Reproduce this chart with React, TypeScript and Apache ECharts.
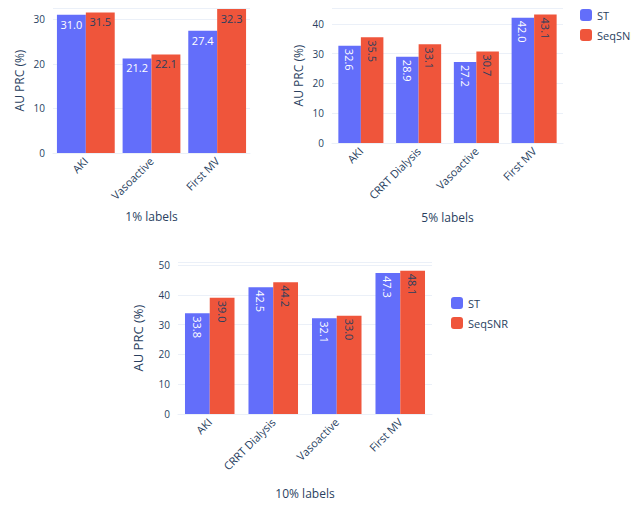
import React, { useEffect, useRef } from "react";
import * as echarts from "echarts";

const cats1 = ["AKI", "Vasoactive", "First MV"];
const st1 = [31.0, 21.2, 27.4];
const sq1 = [31.5, 22.1, 32.3];
const cats5 = ["AKI", "CRRT Dialysis", "Vasoactive", "First MV"];
const st5 = [32.6, 28.9, 27.2, 42.0];
const sq5 = [35.5, 33.1, 30.7, 43.1];
const cats10 = ["AKI", "CRRT Dialysis", "Vasoactive", "First MV"];
const st10 = [33.8, 42.5, 32.1, 47.3];
const sq10 = [39.0, 44.2, 33.0, 48.1];

const BLUE = "#636efa";
const RED = "#EF553B";
const TXT = "#2a3f5f";
const FONT = "Open Sans";

export default function App() {
  const ref = useRef<HTMLDivElement>(null);
  useEffect(() => {
    const chart = echarts.init(ref.current!, null, { renderer: "svg" });
    const grids = [
      { left: 45, width: 197, top: 0, height: 145 },
      { left: 324, width: 231, top: -2, height: 137 },
      { left: 170, width: 254, top: 254, height: 159 },
    ];
    const maxes = [32.5, 45.3, 51];
    const titles = ["1% labels", "5% labels", "10% labels"];
    const catsAll = [cats1, cats5, cats10];
    const xAxis = catsAll.map((c, i) => ({
      type: "category", gridIndex: i, data: c,
      name: titles[i], nameLocation: "middle", nameGap: i === 0 ? 57 : i === 1 ? 68 : 73,
      nameTextStyle: { color: TXT, fontSize: 12, fontFamily: FONT },
      axisTick: { show: false },
      axisLine: { lineStyle: { color: "#ebf0f8" } },
      axisLabel: { rotate: 45, color: TXT, fontSize: 11, fontFamily: FONT, margin: 6 },
    }));
    const yAxis = maxes.map((m, i) => ({
      type: "value", gridIndex: i, min: 0, max: m, interval: 10,
      name: "AU PRC (%)", nameLocation: "middle", nameGap: i === 2 ? 34 : 28,
      nameTextStyle: { color: TXT, fontSize: i === 2 ? 13 : 12, fontFamily: FONT },
      axisLine: { show: false }, axisTick: { show: false },
      axisLabel: {
        color: TXT, fontSize: 10, fontFamily: FONT,
        formatter: (v: number) => (v % 10 === 0 ? String(v) : ""),
      },
      splitLine: { lineStyle: { color: "#ebf0f8" } },
    }));
    const data = [[st1, sq1], [st5, sq5], [st10, sq10]];
    const series: any[] = [];
    data.forEach((pair, i) => {
      pair.forEach((vals, j) => {
        const rotated = i > 0;
        series.push({
          type: "bar", name: j === 0 ? "ST" : "SeqSNR",
          xAxisIndex: i, yAxisIndex: i, data: vals,
          barGap: "0%", barCategoryGap: i === 0 ? "12%" : "22%",
          itemStyle: { color: j === 0 ? BLUE : RED },
          label: rotated
            ? { show: true, position: "insideTop", rotate: -90, align: "left", verticalAlign: "middle",
                distance: 3, formatter: (p: any) => p.value.toFixed(1),
                color: j === 0 ? "#fff" : TXT, fontSize: 11, fontFamily: FONT }
            : { show: true, position: "insideTop", distance: 4,
                formatter: (p: any) => p.value.toFixed(1),
                color: j === 0 ? "#fff" : TXT, fontSize: 11, fontFamily: FONT },
        });
      });
    });
    chart.setOption({
      animation: false,
      backgroundColor: "#fff",
      grid: grids,
      xAxis, yAxis, series,
      legend: [
        { left: 567, top: -4, orient: "vertical", itemWidth: 12, itemHeight: 12, itemGap: 8,
          data: ["ST", "SeqSNR"], textStyle: { color: TXT, fontSize: 11, fontFamily: FONT } },
        { left: 438, top: 284, orient: "vertical", itemWidth: 12, itemHeight: 12, itemGap: 8,
          data: ["ST", "SeqSNR"], textStyle: { color: TXT, fontSize: 11, fontFamily: FONT } },
      ],
    });
    return () => chart.dispose();
  }, []);
  return <div ref={ref} style={{ width: 623, height: 492 }} />;
}
